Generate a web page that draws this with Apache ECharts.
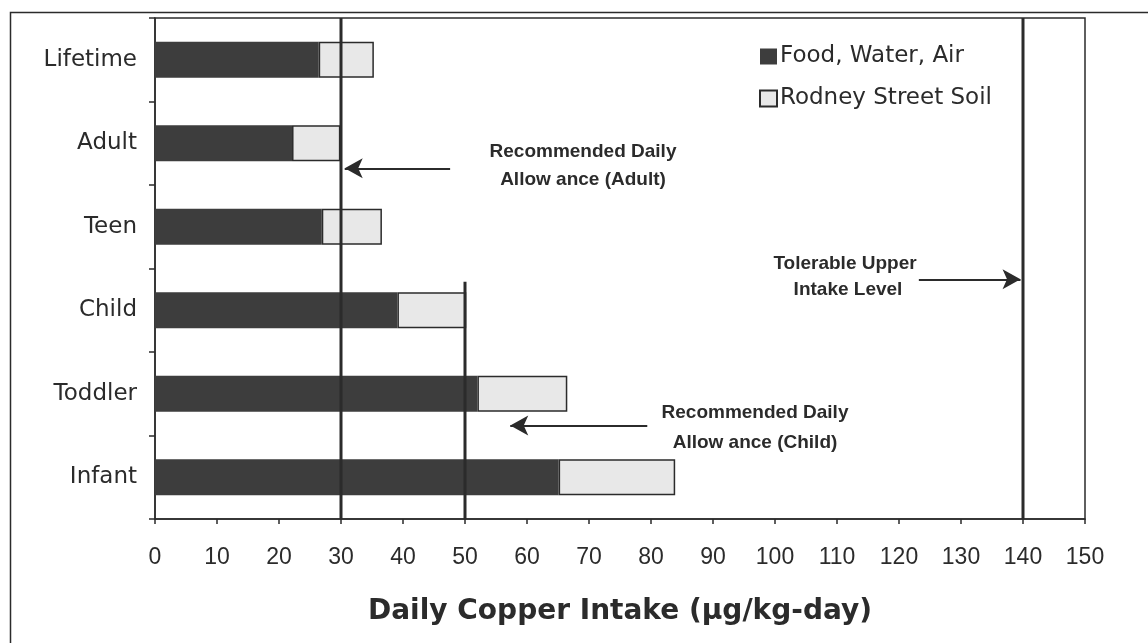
<!DOCTYPE html>
<html>
<head>
<meta charset="utf-8">
<title>Daily Copper Intake</title>
<script src="https://cdn.jsdelivr.net/npm/echarts@6/dist/echarts.min.js"></script>
<style>
  html, body { margin: 0; padding: 0; background: #fff; }
  #chart { width: 1148px; height: 643px; }
</style>
</head>
<body>
<div id="chart"></div>
<script>
// Age groups, listed bottom to top on the category axis
const categories = ['Infant', 'Toddler', 'Child', 'Teen', 'Adult', 'Lifetime'];
// Copper intake (µg/kg-day) from food, water and air
const foodWaterAir = [65.1, 52.0, 39.1, 26.9, 22.1, 26.4];
// Additional intake from Rodney Street soil
const rodneySoil = [18.8, 14.5, 11.1, 9.7, 7.8, 8.9];
// Reference levels (µg/kg-day)
const rdaAdult = 30;
const rdaChild = 50;
const tolerableUpper = 140;
// X-axis scale
const xMin = 0, xMax = 150, xStep = 10;

const ink = '#2b2b2b';
const font = '"Liberation Sans", Arial, sans-serif';
const wideFont = '"DejaVu Sans", "Liberation Sans", sans-serif';

const chart = echarts.init(document.getElementById('chart'), null, { renderer: 'canvas' });

// vertical reference line spanning a range on the hidden 0..6 y scale
function vline(name, x, y0, y1) {
  return {
    name: name, type: 'line', xAxisIndex: 0, yAxisIndex: 1,
    data: [[x, y0], [x, y1]], symbol: 'none', silent: true, z: 5,
    lineStyle: { color: ink, width: 3 }, animation: false
  };
}

const arrowStyle = { color: ink, width: 2, type: 'solid' };

function note(text, x, y) {
  return { type: 'text', style: { text: text, x: x, y: y, textAlign: 'center', textVerticalAlign: 'middle', font: 'bold 19px ' + font, fill: ink } };
}

chart.setOption({
  animation: false,
  backgroundColor: '#fff',
  grid: {
    left: 155, right: 63, top: 18, bottom: 124,
    show: true, borderColor: ink, borderWidth: 1.5, backgroundColor: 'transparent'
  },
  legend: {
    data: ['Food, Water, Air', 'Rodney Street Soil'],
    orient: 'vertical', left: 754, top: 40,
    icon: 'rect',
    itemWidth: 17, itemHeight: 16, itemGap: 19,
    textStyle: { fontSize: 23, color: ink, fontFamily: wideFont, padding: [0, 0, 0, -2] },
    selectedMode: false
  },
  xAxis: {
    type: 'value', min: xMin, max: xMax, interval: xStep,
    name: 'Daily Copper Intake (µg/kg-day)', nameLocation: 'middle', nameGap: 79,
    nameTextStyle: { fontSize: 28, fontWeight: 'bold', color: ink, fontFamily: wideFont },
    axisLine: { show: true, lineStyle: { color: ink, width: 1.5 } },
    axisTick: { show: true, length: 5, lineStyle: { color: ink, width: 1.5 } },
    axisLabel: { fontSize: 23, color: ink, fontFamily: font, margin: 27 },
    splitLine: { show: false }
  },
  yAxis: [
    {
      type: 'category', data: categories,
      axisLine: { show: true, lineStyle: { color: ink, width: 1.5 } },
      axisTick: { show: true, length: 6, lineStyle: { color: ink, width: 1.5 } },
      axisLabel: { fontSize: 23, color: ink, fontFamily: wideFont, margin: 18 }
    },
    { type: 'value', min: 0, max: 6, show: false }
  ],
  series: [
    {
      name: 'Food, Water, Air', type: 'bar', stack: 'intake', barWidth: 36,
      data: foodWaterAir,
      itemStyle: { color: '#3d3d3d' }
    },
    {
      name: 'Rodney Street Soil', type: 'bar', stack: 'intake', barWidth: 36,
      data: rodneySoil,
      itemStyle: { color: '#e8e8e8', borderColor: ink, borderWidth: 1.5 }
    },
    vline('RDA adult', rdaAdult, 0, 6),
    vline('RDA child', rdaChild, 0, 2.84),
    Object.assign(vline('Tolerable upper', tolerableUpper, 0, 6), {
      markLine: {
        silent: true, symbol: ['none', 'arrow'], symbolSize: [15, 18],
        label: { show: false }, lineStyle: arrowStyle, animation: false,
        data: [
          [{ coord: [47.6, 4.2] }, { coord: [30.6, 4.2] }],
          [{ coord: [79.4, 1.12] }, { coord: [57.3, 1.12] }],
          [{ coord: [123.2, 2.87] }, { coord: [139.6, 2.87] }]
        ]
      }
    })
  ],
  graphic: [
    // outer frame
    { type: 'rect', shape: { x: 10.5, y: 12.5, width: 1200, height: 700 },
      style: { fill: null, stroke: ink, lineWidth: 1.5 }, silent: true, z: 100 },
    // annotations for the reference lines
    note('Recommended Daily', 583, 152),
    note('Allow ance (Adult)', 583, 180),
    note('Recommended Daily', 755, 413),
    note('Allow ance (Child)', 755, 443),
    note('Tolerable Upper', 845, 264),
    note('Intake Level', 848, 290)
  ]
});
</script>
</body>
</html>
